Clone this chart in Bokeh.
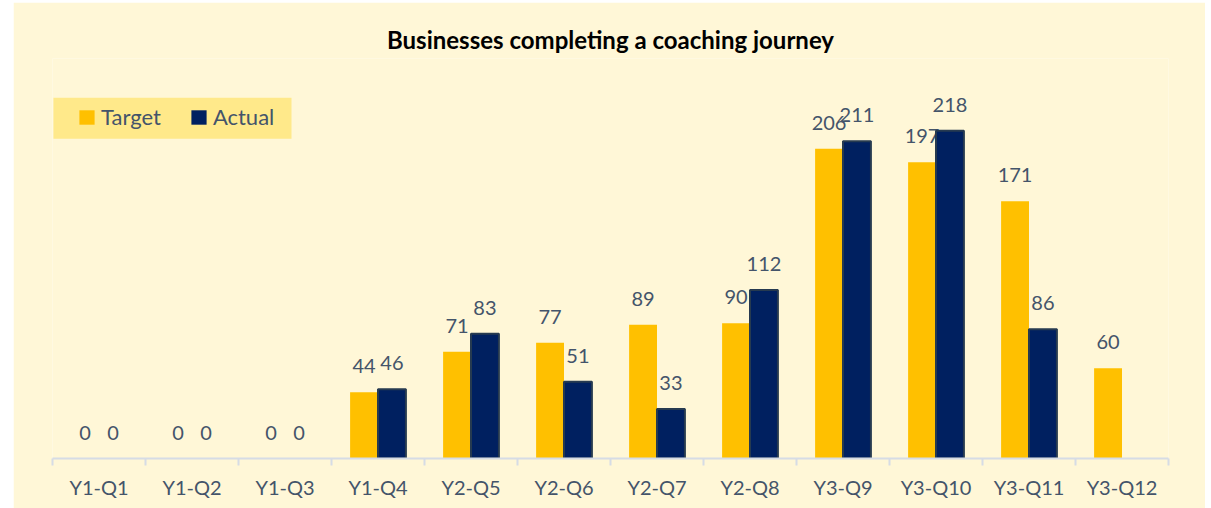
import pandas as pd
from bokeh.plotting import figure
from bokeh.models import (ColumnDataSource, Range1d, FixedTicker, Legend, LegendItem,
                          BoxAnnotation)
from bokeh.transform import dodge
from bokeh.core.properties import value
from bokeh.embed import file_html
from bokeh.resources import INLINE

categories = ["Y1-Q1", "Y1-Q2", "Y1-Q3", "Y1-Q4", "Y2-Q5", "Y2-Q6",
              "Y2-Q7", "Y2-Q8", "Y3-Q9", "Y3-Q10", "Y3-Q11", "Y3-Q12"]
target = [0, 0, 0, 44, 71, 77, 89, 90, 206, 197, 171, 60]
actual = [0, 0, 0, 46, 83, 51, 33, 112, 211, 218, 86, None]

TARGET_COLOR = "#FFC000"
ACTUAL_COLOR = "#002060"
BG = "#FFF7D7"
TXT = "#44546A"
FONT = "Lato"
YMAX = 266

df = pd.DataFrame({"cat": categories, "target": target, "actual": actual})
df["pos"] = [i + 0.5 for i in range(len(categories))]
df["tlab"] = [str(v) for v in df["target"]]
df["alab"] = ["" if pd.isna(v) else str(int(v)) for v in df["actual"]]
src_t = ColumnDataSource(df[["pos", "target", "tlab"]])
df_a = df.dropna(subset=["actual"]).copy()
df_a["outline_alpha"] = (df_a["actual"] > 0).astype(float)
src_a = ColumnDataSource(df_a[["pos", "actual", "alab", "outline_alpha"]])

p = figure(width=1192, height=506, output_backend="svg", toolbar_location=None,
           x_range=Range1d(0, len(categories)), y_range=Range1d(0, YMAX),
           min_border_left=39, min_border_right=37, min_border_top=56, min_border_bottom=50,
           background_fill_color=BG, border_fill_color=BG, outline_line_color=None,
           title="Businesses completing a coaching journey")
p.styles = {"margin-left": "13px", "margin-top": "2px"}

p.title.align = "center"
p.title.text_font = FONT
p.title.text_font_size = "24px"
p.title.text_font_style = "bold"
p.title.text_color = "#000000"
p.title.standoff = 10

p.xgrid.grid_line_color = None
p.ygrid.grid_line_color = None
p.yaxis.visible = False

# legend background panel
p.add_layout(BoxAnnotation(left=0.01, right=2.57, bottom=212.7, top=239.9,
                           fill_color="#FFE98A", fill_alpha=1.0, line_color=None,
                           level="underlay"))

bw = 0.3
rt = p.vbar(x=dodge("pos", -bw / 2, range=p.x_range), top="target", width=bw,
            source=src_t, fill_color=TARGET_COLOR, line_color=None)
p.text(x=dodge("pos", -bw / 2, range=p.x_range), y="target", text="tlab", source=src_t,
       text_align="center", text_baseline="middle", y_offset=-26,
       text_font=value(FONT), text_font_size="20px", text_color=TXT)
ra = p.vbar(x=dodge("pos", bw / 2, range=p.x_range), top="actual", width=bw,
            source=src_a, fill_color=ACTUAL_COLOR, line_color="#263A50", line_width=2,
            line_alpha="outline_alpha")
p.text(x=dodge("pos", bw / 2, range=p.x_range), y="actual", text="alab", source=src_a,
       text_align="center", text_baseline="middle", y_offset=-26,
       text_font=value(FONT), text_font_size="20px", text_color=TXT)

centers = [i + 0.5 for i in range(len(categories))]
bounds = list(range(len(categories) + 1))
ax = p.xaxis[0]
ax.ticker = FixedTicker(ticks=centers, minor_ticks=bounds)
ax.major_label_overrides = {c: lab for c, lab in zip(centers, categories)}
ax.major_tick_line_color = None
ax.major_tick_out = 0
ax.major_tick_in = 0
ax.minor_tick_line_color = "#D6DCE5"
ax.minor_tick_line_width = 2
ax.minor_tick_out = 7
ax.minor_tick_in = 0
ax.axis_line_color = "#D6DCE5"
ax.axis_line_width = 2
ax.major_label_standoff = 9
ax.major_label_text_font = FONT
ax.major_label_text_font_size = "20px"
ax.major_label_text_color = TXT

legend = Legend(items=[LegendItem(label="Target", renderers=[rt]),
                       LegendItem(label="Actual", renderers=[ra])],
                orientation="horizontal", location=(25, 328),
                background_fill_alpha=0.0, border_line_color=None,
                glyph_width=19, glyph_height=18,
                label_text_font=FONT, label_text_font_size="22px",
                label_text_color=TXT, padding=8, margin=0, spacing=28,
                label_standoff=5)
p.add_layout(legend)

open("out.html", "w").write(file_html(p, INLINE))
